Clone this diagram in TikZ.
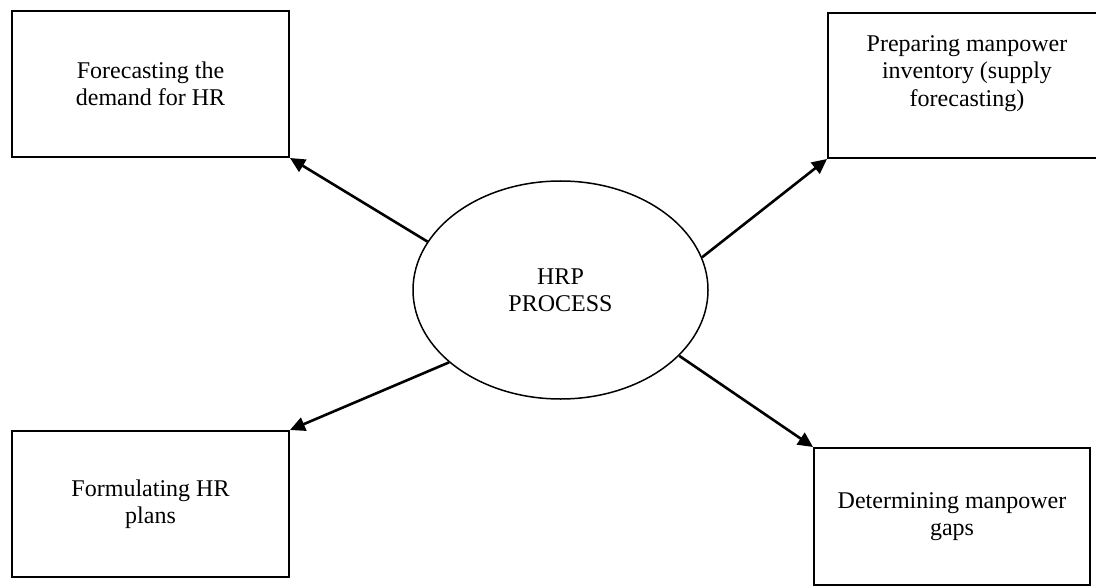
\documentclass[tikz,border=0pt]{standalone}
\usepackage{fontspec}
\setmainfont{Liberation Serif}
\usetikzlibrary{arrows.meta,shapes.geometric}
\begin{document}
\begin{tikzpicture}[x=0.5pt,y=-0.5pt,
  lbl/.style={font=\fontsize{12pt}{13.6pt}\selectfont, align=center, text=black},
  box/.style={lbl, draw=black, line width=1pt, rectangle, inner sep=0pt},
  txt/.style={lbl, inner sep=0pt},
  hub/.style={lbl, draw=black, ellipse, line width=0.75pt, minimum width=147.5pt, minimum height=109pt, inner sep=0pt},
  conn/.style={draw=black, line width=1.3pt, -{Triangle[length=7.5pt,width=7pt]}}
]
\useasboundingbox (0,0) rectangle (1096,588);
\clip (0,0) rectangle (1096,588);
\node[box, minimum width=138.5pt, minimum height=73pt] (b1) at (150.5,84) {Forecasting the\\demand for HR};
\node[box, minimum width=136pt, minimum height=72.5pt] (b2) at (964,85.5) {};
\node[txt] (t2) at (967,73.5) {Preparing manpower\\inventory (supply\\forecasting)};
\node[box, minimum width=138.5pt, minimum height=73pt] (b3) at (150.5,504) {Formulating HR\\plans};
\node[box, minimum width=138pt, minimum height=68.5pt] (b4) at (952,516.5) {Determining manpower\\gaps};
\node[hub] (hub) at (560.5,290) {HRP\\PROCESS};
\draw[conn] (hub.160) -- (b1.south east);
\draw[conn] (hub.13) -- (b2.south west);
\draw[conn] (hub.213) -- (b3.north east);
\draw[conn] (hub.331) -- (b4.north west);
\end{tikzpicture}
\end{document}
